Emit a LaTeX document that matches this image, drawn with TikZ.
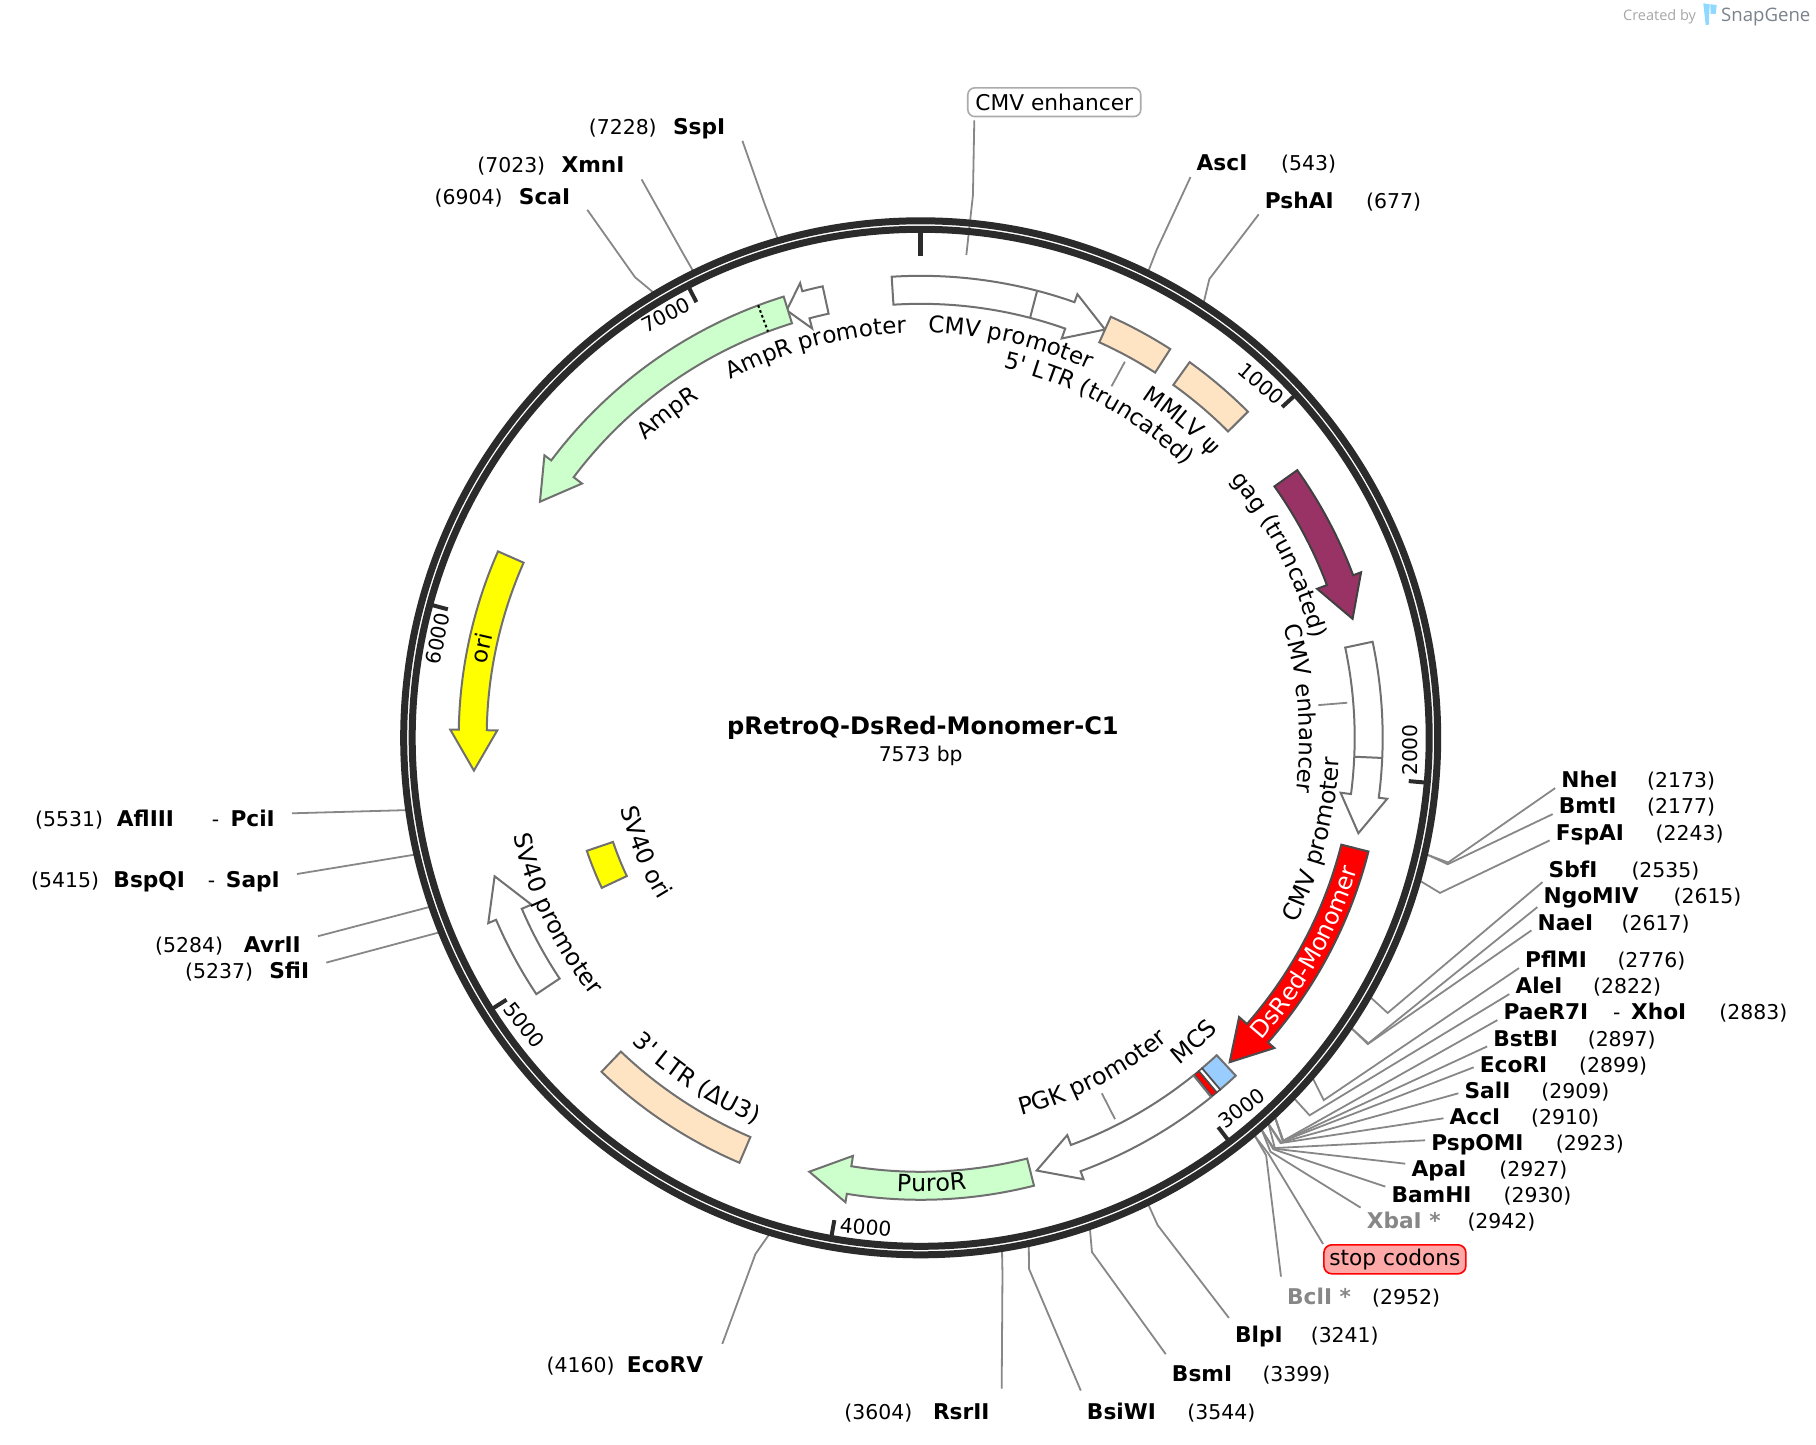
\documentclass[tikz,border=0pt]{standalone}
\usepackage{fontspec}
\setmainfont{DejaVu Sans}
\newfontfamily\plainfont{DejaVu Sans}
\newfontfamily\logofont{Open Sans}
\usetikzlibrary{decorations.text}

\definecolor{ringdark}{HTML}{2B2B2B}
\definecolor{edgegray}{HTML}{707070}
\definecolor{leadgray}{HTML}{878787}
\definecolor{ampgreen}{HTML}{CCFFCC}
\definecolor{ltrtan}{HTML}{FFE4C4}
\definecolor{gagpurple}{HTML}{993366}
\definecolor{mcsblue}{HTML}{99CCFF}
\definecolor{stoppink}{HTML}{FFA8A8}
\definecolor{oriyellow}{HTML}{FFFF00}
\definecolor{logogray}{HTML}{7A828C}
\definecolor{logoblue}{HTML}{8FD8FF}

\newcommand{\mapfont}{\plainfont\fontsize{23}{27}\selectfont}
\newcommand{\mapfontin}{\plainfont\fontsize{23.8}{28}\selectfont}
\tikzset{
    feat/.style={draw=edgegray, line width=2pt, fill=white, line join=miter},
    leader/.style={draw=leadgray, line width=1.8pt},
    tick/.style={draw=ringdark, line width=4pt},
    ticktext/.style={font=\fontsize{20.3}{24}\selectfont, inner sep=0pt},
    sitename/.style={font=\fontsize{21.7}{26}\selectfont\bfseries, text height=15.8pt, text depth=0pt,
        inner ysep=0pt, inner xsep=6pt, anchor=west},
    siteleft/.style={sitename, inner xsep=17pt, anchor=east},
    sitepos/.style={font=\fontsize{20.4}{26}\selectfont, text height=15.8pt, text depth=0pt,
        inner sep=0pt, anchor=west},
    ringline/.style={circle, draw=ringdark, inner sep=0pt, outer sep=0pt}
}

% feature shapes, everything sits on the same band of the map
\newcommand{\mapArrow}[4]{
    \draw[feat, #1] (#2:462pt) arc[start angle=#2, end angle=#3, radius=462pt] -- (#3:470.5pt) -- (#4:448pt)
        -- (#3:423.5pt) -- (#3:434pt) arc[start angle=#3, end angle=#2, radius=434pt] -- cycle;
}
\newcommand{\mapBox}[3]{
    \draw[feat, #1] (#2:462pt) arc[start angle=#2, end angle=#3, radius=462pt] -- (#3:434pt)
        arc[start angle=#3, end angle=#2, radius=434pt] -- cycle;
}
% curved labels: text, radius, middle angle
\newcommand{\labelCW}[3]{
    \path[decorate, decoration={text along path, text={|\mapfont|#1}, text align=center}]
        ({#3+40}:#2pt) arc[start angle={#3+40}, end angle={#3-40}, radius=#2pt];
}
\newcommand{\labelCCW}[3]{
    \path[decorate, decoration={text along path, text={|\mapfontin|#1}, text align=center}]
        ({#3-40}:#2pt) arc[start angle={#3-40}, end angle={#3+40}, radius=#2pt];
}

\begin{document}
\begin{tikzpicture}[x=1pt, y=1pt]
    \useasboundingbox (-920.7,-706.2) rectangle (895.3,737.8);

    % hidden circle for the leader ends
    \node[circle, minimum size=1040pt, inner sep=0pt, outer sep=0pt] (ring) at (0,0) {};

    % callouts
    \node[rounded corners=7pt, draw=black!33, line width=1.6pt, minimum width=173pt, minimum height=28.7pt,
        inner sep=0pt, font=\fontsize{21.7}{26}\selectfont] (cmvbox) at (133.6,635.6) {CMV enhancer};
    \node[rounded corners=8pt, draw=red, fill=stoppink, line width=1.6pt, minimum width=142pt, minimum height=29pt,
        inner sep=0pt, font=\fontsize{21.7}{26}\selectfont] (stop) at (474.2,-521.5) {stop codons};

    % site labels, top
    \node[siteleft] (ssp) at (-178.3,611.1) {SspI};
    \node[sitepos] (sspp) at (-332,611.1) {(7228)};
    \node[siteleft] (xmn) at (-279.1,573.5) {XmnI};
    \node[sitepos] (xmnp) at (-443.5,573.5) {(7023)};
    \node[siteleft] (sca) at (-333.4,541.1) {ScaI};
    \node[sitepos] (scap) at (-486.2,541.1) {(6904)};
    \node[sitename] (asc) at (269.8,574.8) {AscI};
    \node[sitepos] (ascp) at (360.3,574.8) {(543)};
    \node[sitename] (psh) at (338,537.5) {PshAI};
    \node[sitepos] (pshp) at (445.3,537.5) {(677)};

    % site labels, right
    \node[sitename] (nhe) at (634.5,-42.2) {NheI};
    \node[sitepos] (nhep) at (726.3,-42.2) {(2173)};
    \node[sitename] (bmt) at (632,-68.2) {BmtI};
    \node[sitepos] (bmtp) at (726.3,-68.2) {(2177)};
    \node[sitename] (fsp) at (629,-94.5) {FspAI};
    \node[sitepos] (fspp) at (734.8,-94.5) {(2243)};
    \node[sitename] (sbf) at (621.8,-132.2) {SbfI};
    \node[sitepos] (sbfp) at (710.6,-132.2) {(2535)};
    \node[sitename] (ngo) at (616.7,-158.2) {NgoMIV};
    \node[sitepos] (ngop) at (752.7,-158.2) {(2615)};
    \node[sitename] (nae) at (610.7,-184.5) {NaeI};
    \node[sitepos] (naep) at (700.8,-184.5) {(2617)};
    \node[sitename] (pfl) at (598.3,-222.2) {PflMI};
    \node[sitepos] (pflp) at (696.6,-222.2) {(2776)};
    \node[sitename] (ale) at (588.6,-248.2) {AleI};
    \node[sitepos] (alep) at (672.3,-248.2) {(2822)};
    \node[sitename] (pae) at (576.7,-274.2) {PaeR7I};
    \node[sitepos] (paed) at (692.3,-274.2) {-};
    \node[sitename] (xho) at (704.2,-274.2) {XhoI};
    \node[sitepos] (xhop) at (798.5,-274.2) {(2883)};
    \node[sitename] (bst) at (566.5,-300.5) {BstBI};
    \node[sitepos] (bstp) at (666.9,-300.5) {(2897)};
    \node[sitename] (ecor) at (553,-326.5) {EcoRI};
    \node[sitepos] (ecorp) at (658.3,-326.5) {(2899)};
    \node[sitename] (sal) at (537.7,-352.5) {SalI};
    \node[sitepos] (salp) at (620.5,-352.5) {(2909)};
    \node[sitename] (acc) at (522.8,-378.5) {AccI};
    \node[sitepos] (accp) at (610.3,-378.5) {(2910)};
    \node[sitename] (pspo) at (504.5,-404.5) {PspOMI};
    \node[sitepos] (pspop) at (635,-404.5) {(2923)};
    \node[sitename] (apa) at (484.6,-430.9) {ApaI};
    \node[sitepos] (apap) at (578.5,-430.9) {(2927)};
    \node[sitename] (bam) at (464.6,-456.9) {BamHI};
    \node[sitepos] (bamp) at (582.7,-456.9) {(2930)};
    \node[sitename, text=leadgray] (xba) at (439.9,-482.9) {XbaI *};
    \node[sitepos] (xbap) at (546.6,-482.9) {(2942)};
    \node[sitename, text=leadgray] (bcl) at (360.3,-558.9) {BclI *};
    \node[sitepos] (bclp) at (451.3,-558.9) {(2952)};

    % site labels, bottom
    \node[sitename] (blp) at (308.2,-597.2) {BlpI};
    \node[sitepos] (blpp) at (389.9,-597.2) {(3241)};
    \node[sitename] (bsm) at (245.1,-635.5) {BsmI};
    \node[sitepos] (bsmp) at (341.6,-635.5) {(3399)};
    \node[sitename] (bsi) at (160.1,-673.9) {BsiWI};
    \node[sitepos] (bsip) at (266.5,-673.9) {(3544)};
    \node[siteleft] (rsr) at (86,-673.9) {RsrII};
    \node[sitepos] (rsrp) at (-76.4,-673.9) {(3604)};
    \node[siteleft] (ecov) at (-200.4,-627.2) {EcoRV};
    \node[sitepos] (ecovp) at (-374.2,-627.2) {(4160)};

    % site labels, left
    \node[siteleft] (sfi) at (-594.4,-232.9) {SfiI};
    \node[sitepos] (sfip) at (-735.7,-232.9) {(5237)};
    \node[siteleft] (avr) at (-602.7,-206.5) {AvrII};
    \node[sitepos] (avrp) at (-765.7,-206.5) {(5284)};
    \node[siteleft] (sap) at (-623.7,-142.2) {SapI};
    \node[sitepos] (sapd) at (-713,-142.2) {-};
    \node[sitename] (bsp) at (-813.4,-142.2) {BspQI};
    \node[sitepos] (bspp) at (-889.7,-142.2) {(5415)};
    \node[siteleft] (pci) at (-628.7,-80.5) {PciI};
    \node[sitepos] (pcid) at (-709,-80.5) {-};
    \node[sitename] (afl) at (-810,-80.5) {AflIII};
    \node[sitepos] (aflp) at (-885.7,-80.5) {(5531)};

    % leaders
    \draw[leader] (ring.106.4) -- (106.3:557pt) -- ([yshift=-6pt]ssp.south east);
    \draw[leader] (ring.116.15) -- (116.15:542pt) -- ([yshift=-7pt]xmn.south east);
    \draw[leader] (ring.121.81) -- (121.81:542pt) -- ([yshift=-5pt]sca.south east);
    \draw[leader] (ring.64.19) -- (64.19:542pt) -- ([yshift=-6pt]asc.south west);
    \draw[leader] (ring.57.82) -- (57.82:542pt) -- ([yshift=-6pt]psh.south west);
    \draw[leader] ([shift={(-80,-3)}]cmvbox.south) -- (84.5:545pt) -- (84.6:485pt);
    \draw[leader] (ring.-13.3) -- (-13.3:542pt) -- (nhe.south west);
    \draw[leader] (ring.-13.49) -- (-13.49:542pt) -- (bmt.south west);
    \draw[leader] (ring.-16.63) -- (-16.63:542pt) -- (fsp.south west);
    \draw[leader] (ring.-30.51) -- (-30.51:542pt) -- ([yshift=-4pt]sbf.south west);
    \draw[leader] (ring.-34.31) -- (-34.31:542pt) -- ([yshift=-3pt]ngo.south west);
    \draw[leader] (ring.-34.41) -- (-34.41:542pt) -- (nae.south west);
    \draw[leader] (ring.-41.96) -- (-41.96:542pt) -- (pfl.south west);
    \draw[leader] (ring.-44.15) -- (-44.15:542pt) -- (ale.south west);
    \draw[leader] (ring.-47.05) -- (-48:542pt) -- (pae.south west);
    \draw[leader] (ring.-47.71) -- (-48.05:542pt) -- (bst.south west);
    \draw[leader] (ring.-47.81) -- (-48.1:542pt) -- ([yshift=-3pt]ecor.west);
    \draw[leader] (ring.-48.29) -- (-48.3:542pt) -- ([yshift=-3pt]sal.west);
    \draw[leader] (ring.-48.34) -- (-48.4:542pt) -- ([yshift=-2pt]acc.west);
    \draw[leader] (ring.-48.95) -- (-49.2:542pt) -- ([yshift=2pt]pspo.west);
    \draw[leader] (ring.-49.14) -- (-49.3:542pt) -- ([yshift=5pt]apa.west);
    \draw[leader] (ring.-49.28) -- (-49.4:542pt) -- (bam.north west);
    \draw[leader] (ring.-49.85) -- (-49.8:542pt) -- ([yshift=5pt]xba.north west);
    \draw[leader] (ring.-50.05) -- (-50.1:542pt) -- (stop.north west);
    \draw[leader] (ring.-50.33) -- (-50.4:542pt) -- ([yshift=12pt]bcl.north west);
    \draw[leader] (ring.-64.07) -- (-64.07:542pt) -- ([yshift=9pt]blp.north west);
    \draw[leader] (ring.-71.58) -- (-71.58:542pt) -- ([yshift=11pt]bsm.north west);
    \draw[leader] (ring.-78.47) -- (-78.47:542pt) -- ([yshift=13pt]bsi.north west);
    \draw[leader] (ring.-81.32) -- (-81.32:542pt) -- ([shift={(-5,15)}]rsr.north east);
    \draw[leader] (ring.-107.75) -- (-107.75:542pt) -- ([shift={(2,13)}]ecov.north east);
    \draw[leader] (ring.-158.95) -- (sfi.north east);
    \draw[leader] (ring.-161.19) -- (avr.north east);
    \draw[leader] (ring.-167.42) -- ([yshift=6pt]sap.east);
    \draw[leader] (ring.-172.93) -- ([yshift=5pt]pci.east);

    % backbone
    \node[ringline, line width=7pt, minimum size=1034pt] (outer) at (0,0) {};
    \node[ringline, line width=7pt, minimum size=1017pt] (inner) at (0,0) {};

    % ticks
    \draw[tick, line width=5pt] (90:507pt) -- (90:482pt);
    \draw[tick] (42.46:507pt) -- (42.46:490pt);
    \draw[tick] (-5.07:507pt) -- (-5.07:490pt);
    \draw[tick] (-52.61:507pt) -- (-52.61:490pt);
    \draw[tick] (-100.15:507pt) -- (-100.15:490pt);
    \draw[tick] (-147.69:507pt) -- (-147.69:490pt);
    \draw[tick] (-195.2:507pt) -- (-195.2:490pt);
    \draw[tick] (117.24:507pt) -- (117.24:490pt);
    \node[ticktext, rotate=-41] (t1000) at (340.6,354.3) {1000};
    \node[ticktext, rotate=90] (t2000) at (489.3,-12.2) {2000};
    \node[ticktext, rotate=37] (t3000) at (321,-370.5) {3000};
    \node[ticktext, rotate=-5] (t4000) at (-55,-489.5) {4000};
    \node[ticktext, rotate=-52] (t5000) at (-396.5,-287) {5000};
    \node[ticktext, rotate=78] (t6000) at (-483,99) {6000};
    \node[ticktext, rotate=27] (t7000) at (-255,423) {7000};

    % features
    \mapArrow{}{93.6}{70.55}{65.7}
    \draw[feat] (75.4:462pt) -- (75.4:434pt);
    \mapArrow{}{102.25}{104.85}{107.4}
    \mapArrow{fill=ampgreen}{107.25}{143.1}{148.2}
    \draw[black, line width=2pt, dash pattern=on 2.6pt off 2.6pt] (110.6:462pt) -- (110.6:434pt);
    \mapBox{fill=ltrtan}{65.7}{57.3}
    \mapBox{fill=ltrtan}{54.4}{44.9}
    \mapArrow{fill=gagpurple, draw=black!75}{35.4}{20.6}{15.4}
    \mapArrow{}{12}{-7.45}{-12.3}
    \draw[feat] (-2.5:462pt) -- (-2.5:434pt);
    \mapArrow{fill=red, draw=black!70}{-14.25}{-41.25}{-46.4}
    \mapBox{fill=mcsblue}{-47}{-49.6}
    \mapBox{draw=black!70, line width=1.5pt}{-49.6}{-50.15}
    \mapBox{fill=red, draw=black!70, line width=1.5pt}{-50.15}{-50.9}
    \mapArrow{}{-51.05}{-69.75}{-75}
    \mapArrow{fill=ampgreen}{-75.8}{-99.2}{-104.4}
    \mapBox{fill=ltrtan}{-113.1}{-133.7}
    \mapArrow{}{-146.3}{-156.8}{-162}
    \mapArrow{fill=oriyellow}{156.2}{179}{184.2}
    \draw[feat, fill=oriyellow] (-161.3:352.5pt) arc[start angle=-161.3, end angle=-154.8, radius=352.5pt]
        -- (-154.8:324.8pt) arc[start angle=-154.8, end angle=-161.3, radius=324.8pt] -- cycle;

    % short leaders to curved labels
    \draw[leader] (61.5:428pt) -- (61.5:400pt);
    \draw[leader] (4.7:428pt) -- (4.7:399pt);
    \draw[leader] (-63:428pt) -- (-63:399pt);

    % curved labels
    \labelCW{CMV promoter}{405}{77.2}
    \labelCW{5' LTR (truncated)}{379}{61.6}
    \labelCW{MMLV ψ}{405}{50.5}
    \labelCW{gag (truncated)}{403}{27}
    \labelCW{CMV enhancer}{379}{4.4}
    \labelCCW{CMV promoter}{419}{-14.5}
    \labelCCW{|\mapfontin\color{white}|DsRed-Monomer}{456}{-29.2}
    \labelCCW{MCS}{417}{-48.1}
    \labelCCW{PGK promoter}{391}{-62.9}
    \labelCCW{PuroR}{454}{-88.6}
    \labelCCW{3' LTR (ΔU3)}{420}{-123.3}
    \labelCCW{SV40 promoter}{419}{-154.2}
    \labelCCW{SV40 ori}{308}{-157.5}
    \labelCW{ori}{440}{168.5}
    \labelCW{AmpR}{405}{128}
    \labelCW{AmpR promoter}{405}{105}

    % map title
    \node[font=\fontsize{24.1}{28}\selectfont\bfseries, inner sep=0pt] (title) at (2.3,9.5) {pRetroQ-DsRed-Monomer-C1};
    \node[font=\fontsize{20.3}{24}\selectfont, inner sep=0pt] (size) at (0,-18) {7573 bp};

    % logo
    \node[font=\logofont\fontsize{14.5}{18}\selectfont, text=black!35, inner sep=0pt, anchor=west] (created) at (702.3,720.8) {Created by};
    \node[font=\logofont\fontsize{18.6}{24}\selectfont, text=logogray, inner sep=0pt, anchor=west] (snap) at (800.3,720.8) {SnapGene};
    \fill[logoblue] (782.6,734.5) -- (789,733.5) -- (788,712.8) -- (785,712.8) -- cycle;
    \fill[logoblue] (789.5,733.5) -- (796,732.8) -- (795,724) -- (790,724) -- cycle;
\end{tikzpicture}
\end{document}
